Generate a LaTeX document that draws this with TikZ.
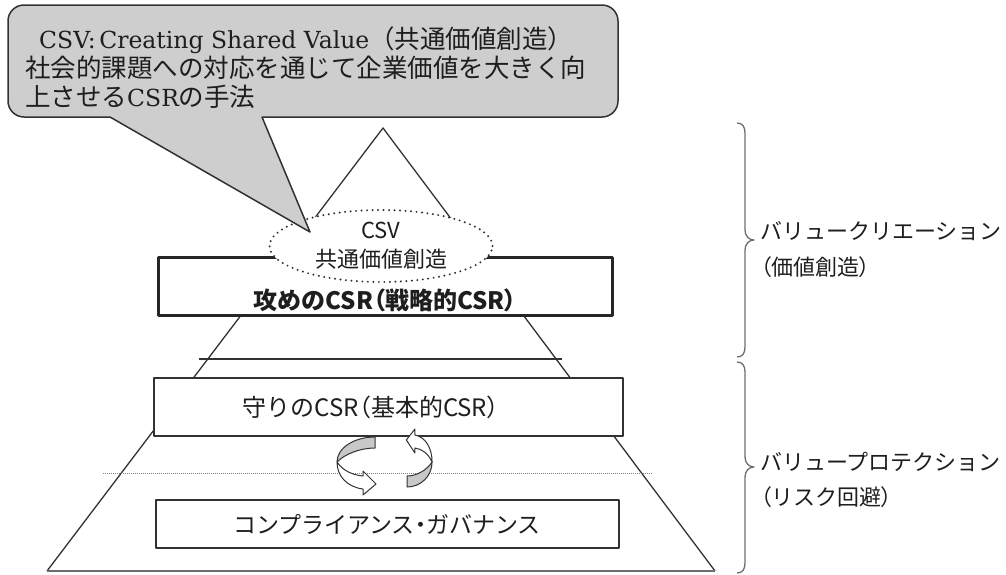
\documentclass[tikz,border=0pt]{standalone}
\usepackage{fontspec}
\newfontfamily\jp{Noto Sans CJK JP}
\newfontfamily\jpp{Noto Sans CJK JP}[RawFeature=+palt]
\newfontfamily\cent{DejaVu Serif}
\newcommand{\lp}{{\jpp （}}
\newcommand{\rp}{{\jpp ）}}
\newcommand{\mdot}{{\jpp ・}}
\usetikzlibrary{shapes.geometric}
\definecolor{callgray}{RGB}{206,206,206}
\definecolor{linegray}{RGB}{50,50,50}
\definecolor{basegray}{RGB}{110,110,110}
\definecolor{arrowgray}{RGB}{200,200,200}
\definecolor{txt}{RGB}{30,30,30}
\tikzset{
  pyr/.style={draw=linegray, line width=1.3pt},
  boxstyle/.style={draw=linegray, fill=white, line width=1.4pt, inner sep=0pt},
  strongbox/.style={draw=black!85, fill=white, line width=3pt, inner sep=0pt},
  lbl/.style={text=txt, inner sep=0pt, font=\jp\fontsize{22}{29}\selectfont},
  calltxt/.style={text=txt, inner sep=0pt, anchor=base west, font=\fontsize{25.5}{29}\selectfont},
  ribbon/.style={fill=arrowgray, draw=linegray, line width=1pt},
  ribbonw/.style={fill=white, draw=linegray, line width=1pt},
  bracestyle/.style={draw=basegray, line width=1.3pt}
}
\begin{document}
\begin{tikzpicture}[x=1pt,y=-1pt,line join=round]
\useasboundingbox (0,0) rectangle (1006,574);

% pyramid outline
\coordinate (apex) at (383,128);
\coordinate (bl) at (47,571);
\coordinate (br) at (715,571);
\draw[pyr] (bl) -- (apex) -- (br);
\draw[draw=basegray, line width=2pt] (bl) -- (br);
\coordinate (hl) at (199,359);
\coordinate (hr) at (562,359);
\draw[pyr] (hl) -- (hr);
\coordinate (dl) at (103,473);
\coordinate (dr) at (652,473);
\draw[draw=gray, line width=1pt, dash pattern=on 1pt off 1pt] (dl) -- (dr);

% boxes
\node[strongbox, minimum width=454pt, minimum height=58pt] (sbox) at (385,286) {};
\node[boxstyle, minimum width=469pt, minimum height=58pt] (gbox) at (388.5,407) {};
\node[boxstyle, minimum width=463pt, minimum height=48pt] (cbox) at (387.5,524) {};

% CSV ellipse
\node[ellipse, draw=linegray, fill=white, line width=2.2pt, dash pattern=on 0pt off 5.5pt, line cap=round,
      minimum width=223pt, minimum height=72pt, inner sep=0pt, align=center, text=txt,
      font=\jp\fontsize{22}{29}\selectfont] (csv) at (381,246) {CSV\\共通価値創造};

% callout
\draw[fill=callgray, draw=linegray, line width=1.5pt]
  (110,117) -- (310,232) -- (262,117) -- (602,117)
  arc[start angle=-90,end angle=0,radius=16pt] -- (618,21)
  arc[start angle=0,end angle=90,radius=16pt] -- (24,5)
  arc[start angle=90,end angle=180,radius=16pt] -- (8,101)
  arc[start angle=180,end angle=270,radius=16pt] -- cycle;
\node[calltxt] (c1) at (39,48) {{\cent\fontsize{23.5}{29}\selectfont CSV:\hspace{0.15em}Creating Shared Value}{\jp （共通価値創造）}};
\node[calltxt] (c2) at (25,77) {\jp 社会的課題への対応を通じて企業価値を大きく向};
\node[calltxt] (c3) at (25,106) {{\jp 上させる}{\cent\fontsize{23.5}{29}\selectfont CSR}{\jp の手法}};

% box texts
\node[lbl, font=\jp\bfseries\fontsize{24}{29}\selectfont] (stext) at (385,300) {攻めのCSR\lp 戦略的CSR\rp};
\node[lbl, font=\jp\fontsize{24}{29}\selectfont] (gtext) at (371,407) {守りのCSR\lp 基本的CSR\rp};
\node[lbl, font=\jp\fontsize{23}{29}\selectfont] (ctext) at (387,524) {コンプライアンス\mdot ガバナンス};

% rotating arrows
\begin{scope}[shift={(375,462)}]
  \path[ribbon] (0,-25) .. controls (-21,-25) and (-38,-14) .. (-38,0)
     .. controls (-30,-8) and (-15,-14) .. (0,-14) -- cycle;
  \path[ribbonw] (-38,0) .. controls (-32,9) and (-22,13) .. (-12,14) -- (-12,9) -- (1,22) -- (-12,33) -- (-12,27)
     .. controls (-28,25) and (-38,14) .. (-38,0) -- cycle;
\end{scope}
\begin{scope}[shift={(407,462)}, xscale=-0.66, yscale=-1]
  \path[ribbon] (0,-25) .. controls (-21,-25) and (-38,-14) .. (-38,0)
     .. controls (-30,-8) and (-15,-14) .. (0,-14) -- cycle;
  \path[ribbonw] (-38,0) .. controls (-32,9) and (-22,13) .. (-12,14) -- (-12,9) -- (1,22) -- (-12,33) -- (-12,27)
     .. controls (-28,25) and (-38,14) .. (-38,0) -- cycle;
\end{scope}

% braces
\draw[bracestyle] (737,123) .. controls (742,123) and (745,126) .. (745,133) -- (745,230)
  .. controls (745,236) and (749,240) .. (754,240) .. controls (749,240) and (745,244) .. (745,250)
  -- (745,347) .. controls (745,354) and (742,357) .. (737,357);
\draw[bracestyle] (737,362) .. controls (742,362) and (745,365) .. (745,372) -- (745,457)
  .. controls (745,463) and (749,467) .. (754,467) .. controls (749,467) and (745,471) .. (745,477)
  -- (745,563) .. controls (745,570) and (742,573) .. (737,573);

% right labels
\node[lbl, anchor=west, align=left, font=\jp\fontsize{22}{36}\selectfont] (vc) at (760,250) {バリュークリエーション\\\lp 価値創造\rp};
\node[lbl, anchor=west, align=left, font=\jp\fontsize{22}{35}\selectfont] (vp) at (760,480) {バリュープロテクション\\\lp リスク回避\rp};
\end{tikzpicture}
\end{document}
